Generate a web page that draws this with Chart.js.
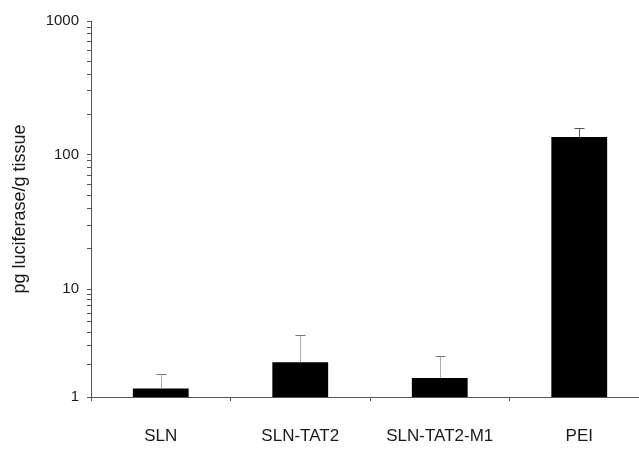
<!DOCTYPE html>
<html><head><meta charset="utf-8">
<script src="https://cdn.jsdelivr.net/npm/chart.js@4/dist/chart.umd.min.js"></script>
<style>
html,body{margin:0;padding:0;background:#fff;overflow:hidden;width:639px;height:457px}
#wrap{position:relative;width:655px;height:457px}
canvas{display:block}
</style>
</head><body><div id="wrap"><canvas id="c" width="655" height="457"></canvas></div>
<script>
// ---- data ----
const categories = ['SLN', 'SLN-TAT2', 'SLN-TAT2-M1', 'PEI'];
const meanValues = [1.2, 2.1, 1.5, 136];
const errorUpper = [1.63, 3.75, 2.4, 159];
const yMajorTicks = [1, 10, 100, 1000];
const yMinorMultipliers = [2, 3, 4, 5, 6, 7, 8, 9];
const yAxisTitle = 'pg luciferase/g tissue';

// ---- axis shape (the original figure's decades are not equally spaced) ----
const decadeFractions = [0, 0.287, 0.644, 1];

class WarpedLogScale extends Chart.LogarithmicScale {
  warp(v) {
    const L = Math.log10(v);
    if (L <= 0) return decadeFractions[0];
    if (L >= 3) return decadeFractions[3];
    const i = Math.floor(L);
    return decadeFractions[i] + (L - i) * (decadeFractions[i + 1] - decadeFractions[i]);
  }
  getPixelForValue(value) {
    if (value === undefined || value === 0) value = this.min;
    if (value === null || isNaN(value)) return NaN;
    return this.getPixelForDecimal(this.warp(value));
  }
  getValueForPixel(pixel) {
    const d = this.getDecimalForPixel(pixel);
    for (let i = 0; i < 3; i++) {
      if (d <= decadeFractions[i + 1]) {
        return Math.pow(10, i + (d - decadeFractions[i]) / (decadeFractions[i + 1] - decadeFractions[i]));
      }
    }
    return this.max;
  }
}
WarpedLogScale.id = 'warpedLog';
WarpedLogScale.defaults = Chart.LogarithmicScale.defaults;
Chart.register(WarpedLogScale);

const errorBarPlugin = {
  id: 'errorBars',
  afterDatasetsDraw(chart) {
    const meta = chart.getDatasetMeta(0);
    const yScale = chart.scales.y;
    const ctx = chart.ctx;
    ctx.save();
    ctx.lineWidth = 1;
    meta.data.forEach((bar, i) => {
      const x = Math.round(bar.x) + 0.5;
      const yTop = Math.round(yScale.getPixelForValue(errorUpper[i])) + 0.5;
      const half = 5;
      ctx.strokeStyle = i === 3 ? '#555' : '#aaa';
      ctx.beginPath();
      ctx.moveTo(x, bar.y);
      ctx.lineTo(x, yTop);
      ctx.stroke();
      ctx.strokeStyle = i === 3 ? '#555' : '#777';
      ctx.beginPath();
      ctx.moveTo(x - half, yTop);
      ctx.lineTo(x + half, yTop);
      ctx.stroke();
    });
    ctx.restore();
  }
};

Chart.defaults.font.family = '"Liberation Sans", Arial, sans-serif';
Chart.defaults.color = '#1a1a1a';

new Chart(document.getElementById('c'), {
  type: 'bar',
  data: {
    labels: categories,
    datasets: [{
      data: meanValues,
      backgroundColor: '#000',
      borderWidth: 0,
      barPercentage: 0.4,
      categoryPercentage: 1.0
    }]
  },
  options: {
    responsive: false,
    animation: false,
    events: [],
    layout: { padding: { top: 21, right: 6, left: 0, bottom: 0 } },
    plugins: { legend: { display: false }, tooltip: { enabled: false } },
    scales: {
      x: {
        grid: { display: true, offset: true, drawOnChartArea: false, tickLength: 4, color: '#555' },
        border: { color: '#555', width: 1 },
        ticks: { padding: 25, font: { size: 17 }, maxRotation: 0 },
        afterFit(s) { s.height = 60; }
      },
      y: {
        type: 'warpedLog',
        min: 1, max: 1000,
        grid: { display: true, drawOnChartArea: false, tickLength: 4, color: '#555' },
        border: { color: '#555', width: 1 },
        afterBuildTicks(s) {
          const t = [];
          yMajorTicks.forEach((m, i) => {
            t.push({ value: m, major: true });
            if (i < yMajorTicks.length - 1) yMinorMultipliers.forEach(k => t.push({ value: m * k }));
          });
          t.sort((a, b) => a.value - b.value);
          s.ticks = t;
        },
        ticks: {
          autoSkip: false,
          padding: 8,
          font: { size: 15 },
          callback(v) { return yMajorTicks.includes(v) ? String(v) : ''; }
        },
        title: { display: true, text: yAxisTitle, font: { size: 18 }, padding: { top: 9, bottom: 0 } },
        afterFit(s) { s.width = 91; }
      }
    }
  },
  plugins: [errorBarPlugin]
});
</script>
</body></html>
